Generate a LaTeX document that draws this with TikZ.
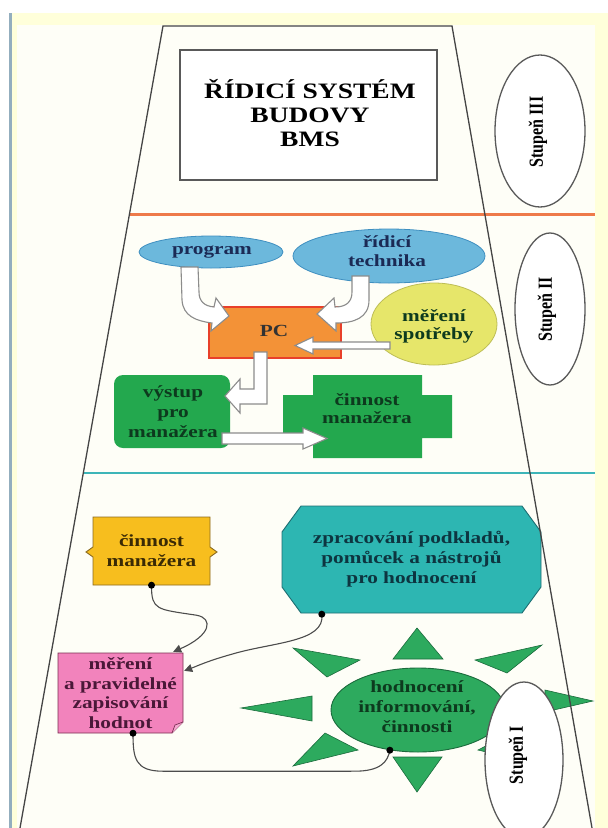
\documentclass[tikz,border=0pt]{standalone}
\usepackage{fontspec}
\setmainfont{Liberation Serif}[FakeStretch=1.25]
\newfontfamily\stupfont{Liberation Serif}[FakeStretch=0.8]
\usetikzlibrary{arrows.meta,calc,shapes.geometric}
\definecolor{bgyellow}{HTML}{FFFFDA}
\definecolor{bginner}{HTML}{FEFEF7}
\definecolor{leftline}{HTML}{93AEBE}
\definecolor{trapline}{HTML}{454545}
\definecolor{orangeline}{HTML}{EE7A4A}
\definecolor{cyanline}{HTML}{3DB5B8}
\definecolor{progblue}{HTML}{6CB8DC}
\definecolor{progborder}{HTML}{3F8FC0}
\definecolor{navytext}{HTML}{1B2A55}
\definecolor{pcorange}{HTML}{F39237}
\definecolor{pcred}{HTML}{E8402A}
\definecolor{mesyellow}{HTML}{E6E66A}
\definecolor{mesborder}{HTML}{BDBD55}
\definecolor{green1}{HTML}{23A84E}
\definecolor{sungreen}{HTML}{2DAA5E}
\definecolor{sunborder}{HTML}{1B6B3C}
\definecolor{greentext}{HTML}{0D3A1E}
\definecolor{teal1}{HTML}{2DB6B2}
\definecolor{tealborder}{HTML}{1E6E72}
\definecolor{tealtext}{HTML}{0D3540}
\definecolor{yellowbox}{HTML}{F7BE1E}
\definecolor{yellowborder}{HTML}{8A6A20}
\definecolor{yellowtext}{HTML}{3A2A05}
\definecolor{pink1}{HTML}{F283BC}
\definecolor{pinkborder}{HTML}{7A2E52}
\definecolor{pinktext}{HTML}{4A1838}
\begin{document}
\begin{tikzpicture}[x=1pt,y=-1pt,
  lbl/.style={font=\bfseries\fontsize{17}{19.5}\selectfont, align=center, inner sep=0pt},
  stup/.style={ellipse, draw=black!65, line width=1.3pt, fill=white, inner sep=0pt},
  stuptxt/.style={font=\stupfont\bfseries\fontsize{20}{20}\selectfont, rotate=90, inner sep=0pt},
  barrow/.style={fill=white, draw=black!45, line width=1.1pt, line join=miter},
  conn/.style={draw=black!70, line width=1.1pt},
  tipped/.style={-{Triangle[length=8pt,width=8pt]}},
  bullet/.style={fill=black},
  tri/.style={fill=sungreen, draw=sunborder, line width=0.6pt, line join=miter}
]
\useasboundingbox (0,0) rectangle (608,828);
% background
\fill[white] (0,0) rectangle (608,828);
\fill[bgyellow] (10,13) rectangle (608,828);
\fill[bginner] (17,25) rectangle (595,828);
\draw[leftline, line width=3pt] (10,13) -- (10,828);

% separating lines
\draw[orangeline, line width=3pt] (129.5,214) -- (595,214);
\draw[cyanline, line width=2.5pt] (83.3,473) -- (595,473);

% level III
\node[draw=black!65, line width=1.3pt, fill=white, minimum width=257pt, minimum height=130pt, inner sep=0pt] (bms) at (308.5,115) {};
\node[font=\bfseries\fontsize{22}{24}\selectfont, align=center, inner sep=0pt] (bmstxt) at (310,113) {ŘÍDICÍ SYSTÉM\\BUDOVY\\BMS};
\node[stup, minimum width=90pt, minimum height=152pt] (s3) at (540,131) {};
\node[stuptxt] (s3t) at (538,132) {Stupeň III};

% level II
\node[stup, minimum width=70pt, minimum height=152pt] (s2) at (550,309) {};
\node[stuptxt] (s2t) at (547,309) {Stupeň II};

\node[ellipse, fill=progblue, draw=progborder, line width=0.8pt, minimum width=144pt, minimum height=32pt, inner sep=0pt] (prog) at (211,252) {};
\node[lbl, text=navytext] (progt) at (212,252) {program};
\node[ellipse, fill=progblue, draw=progborder, line width=0.8pt, minimum width=192pt, minimum height=54pt, inner sep=0pt] (tech) at (389,256) {};
\node[lbl, text=navytext, font=\bfseries\fontsize{17}{19}\selectfont] (techt) at (387,251) {řídicí\\technika};
\node[fill=pcorange, draw=pcred, line width=1.6pt, minimum width=132pt, minimum height=51pt, inner sep=0pt] (pc) at (275,332.5) {};
\node[lbl, text=black!80] (pct) at (274,331) {PC};
\node[ellipse, fill=mesyellow, draw=mesborder, line width=0.8pt, minimum width=126pt, minimum height=82pt, inner sep=0pt] (mer) at (434,324) {};
\node[lbl, text=greentext, font=\bfseries\fontsize{17}{18}\selectfont] (mert) at (434,326) {měření\\spotřeby};

% block arrows program -> PC, technika -> PC
\path[barrow] (181,267) -- (182,300) .. controls (183,316) and (196,321) .. (212,323) -- (211,331) -- (229,316) -- (216,298) -- (214,307) .. controls (204,306) and (199,301) .. (199,292) -- (198,267) -- cycle;
\path[barrow] (369,276) -- (369,300) .. controls (369,318) and (354,323) .. (336,323) -- (336,331) -- (317,314) -- (334,298) -- (335,307) .. controls (346,307) and (352,302) .. (352,292) -- (352,276) -- cycle;
% měření -> PC
\path[barrow] (390,342) -- (313,342) -- (313,337) -- (295,345.5) -- (313,354) -- (313,349) -- (390,349) -- cycle;

% výstup and cross
\node[fill=green1, rounded corners=9pt, minimum width=116pt, minimum height=73pt, inner sep=0pt] (vys) at (172,411.5) {};
\node[lbl, text=greentext, font=\bfseries\fontsize{17}{20}\selectfont] (vyst) at (173,412) {výstup\\pro\\manažera};
\fill[green1] (313,375) -- (422,375) -- (422,395) -- (452,395) -- (452,438) -- (422,438) -- (422,458) -- (313,458) -- (313,438) -- (283,438) -- (283,395) -- (313,395) -- cycle;
\node[lbl, text=greentext, font=\bfseries\fontsize{17}{18}\selectfont] (cm2) at (367,409) {činnost\\manažera};

% PC -> výstup
\path[barrow] (254,352) -- (267,352) -- (267,404) -- (240,404) -- (240,413) -- (225,396) -- (240,379) -- (240,389) -- (254,389) -- cycle;
% výstup -> činnost
\path[barrow] (222,433) -- (303,433) -- (303,428) -- (327,438.5) -- (303,449) -- (303,444) -- (222,444) -- cycle;

% level I
\fill[yellowbox, draw=yellowborder, line width=0.9pt] (93,517) -- (210,517) -- (210,547) -- (217,552) -- (210,557) -- (210,585) -- (93,585) -- (93,557) -- (86,552) -- (93,547) -- cycle;
\node[lbl, text=yellowtext, minimum width=117pt, minimum height=68pt, font=\bfseries\fontsize{17}{20}\selectfont] (cm1) at (151.5,551) {činnost\\manažera};

\fill[teal1, draw=tealborder, line width=0.9pt] (301,506) -- (522,506) -- (541,532) -- (541,587) -- (522,613) -- (301,613) -- (282,587) -- (282,532) -- cycle;
\node[lbl, text=tealtext, minimum width=259pt, minimum height=107pt, font=\bfseries\fontsize{17}{20}\selectfont] (oct) at (411.5,559.5) {zpracování podkladů,\\pomůcek a nástrojů\\pro hodnocení};

\fill[pink1, draw=pinkborder, line width=0.9pt] (58,653) -- (183,653) -- (183,722) -- (172,733) -- (58,733) -- cycle;
\draw[pinkborder, fill=pink1!70!white, line width=0.7pt] (183,722) -- (175,725) -- (172,733);
\node[lbl, text=pinktext, minimum width=125pt, minimum height=80pt, font=\bfseries\fontsize{17}{19.5}\selectfont] (pink) at (120.5,693) {měření\\a pravidelné\\zapisování\\hodnot};

% sun
\path[tri] (417,628) -- (393,659) -- (443,659) -- cycle;
\path[tri] (293,648) -- (360,660) -- (327,677) -- cycle;
\path[tri] (542,645) -- (475,660) -- (507,673) -- cycle;
\path[tri] (241,708) -- (312,696) -- (312,721) -- cycle;
\path[tri] (593,701) -- (545,690) -- (545,712) -- cycle;
\path[tri] (293,766) -- (358,750) -- (325,733) -- cycle;
\path[tri] (393,757) -- (442,757) -- (417,792) -- cycle;
\path[tri] (543,766) -- (478,750) -- (511,733) -- cycle;
\node[ellipse, fill=sungreen, draw=sunborder, line width=0.9pt, minimum width=174pt, minimum height=84pt, inner sep=0pt] (sun) at (418,710) {};
\node[lbl, text=greentext, font=\bfseries\fontsize{17}{20}\selectfont] (sunt) at (417,707) {hodnocení\\informování,\\činnosti};

% connectors
\coordinate (a0) at (cm1.south);
\coordinate (a1) at ($(pink.north east)+(-10,-1)$);
\draw[conn, tipped] (a0) .. controls ($(a0)+(0,25)$) and ($(a0)+(5,24)$) .. ($(a0)+(45,30)$) .. controls ($(a0)+(62,33)$) and ($(a0)+(60,50)$) .. (a1);
\fill[bullet] (a0) circle (3.5pt);

\coordinate (b0) at ($(oct.south west)+(40,1)$);
\coordinate (b1) at ($(pink.north east)+(1,18)$);
\draw[conn, tipped] (b0) .. controls ($(b0)+(4,28)$) and ($(b0)+(-50,28)$) .. ($(b0)+(-90,40)$) .. controls ($(b0)+(-115,47)$) and ($(b0)+(-125,52)$) .. (b1);
\fill[bullet] (b0) circle (3.5pt);

\coordinate (c0) at ($(pink.south)+(12.5,0)$);
\coordinate (c1) at (sun.235);
\draw[conn] (c0) .. controls ($(c0)+(0,25)$) and ($(c0)+(2,38)$) .. ($(c0)+(30,38)$) -- ($(c1)+(-35,21)$) .. controls ($(c1)+(-10,21)$) and ($(c1)+(-2,12)$) .. (c1);
\fill[bullet] (c0) circle (3.5pt);
\fill[bullet] (c1) circle (3.5pt);

% trapezoid
\draw[trapline, line width=1.3pt, line join=miter] (20,828) -- (163,26) -- (452,26) -- (592,828);

% Stupeň I
\node[stup, minimum width=78pt, minimum height=156pt] (s1) at (524,760) {};
\node[stuptxt] (s1t) at (518,755) {Stupeň I};
\end{tikzpicture}
\end{document}
